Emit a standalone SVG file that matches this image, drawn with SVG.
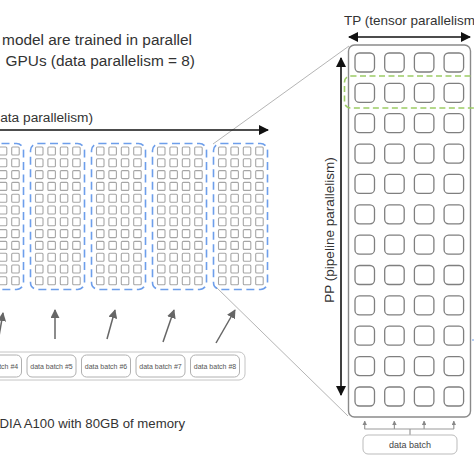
<svg xmlns="http://www.w3.org/2000/svg" xmlns:xlink="http://www.w3.org/1999/xlink" width="474" height="474" viewBox="0 0 474 474">
<style>
.t{font-family:"Liberation Sans",Arial,sans-serif;fill:#333}
.gpu{fill:none;stroke:#6d9eeb;stroke-width:1.6;stroke-dasharray:8 4.5}
.sq{fill:#fff;stroke:#a6a6a6;stroke-width:1.1}
.bsq{fill:#fff;stroke:#7f7f7f;stroke-width:1.3}
.db{fill:#fff;stroke:#b0b0b0;stroke-width:1}
.dbt{font-family:"Liberation Sans",Arial,sans-serif;font-size:7px;fill:#555;text-anchor:middle}
.blk{stroke:#111;stroke-width:1.6;fill:none}
.gr{stroke:#666;stroke-width:1.5;fill:none}
.thin{stroke:#b5b5b5;stroke-width:1;fill:none}
</style>
<defs>
<marker id="ahb" viewBox="0 0 10 10" refX="9" refY="5" markerWidth="10" markerHeight="10" markerUnits="userSpaceOnUse" orient="auto-start-reverse"><path d="M0,0 L10,5 L0,10 z" fill="#111"/></marker>
<marker id="ag" viewBox="0 0 10 10" refX="9" refY="5" markerWidth="9" markerHeight="9" markerUnits="userSpaceOnUse" orient="auto"><path d="M0,0 L10,5 L0,10 z" fill="#666"/></marker>
<marker id="as" viewBox="0 0 10 10" refX="9" refY="5" markerWidth="4.5" markerHeight="4.5" markerUnits="userSpaceOnUse" orient="auto"><path d="M0,0 L10,5 L0,10 z" fill="#888"/></marker>
<g id="srow">
<rect class="sq" x="0" y="0" width="7.5" height="8" rx="1"/>
<rect class="sq" x="12.4" y="0" width="7.5" height="8" rx="1"/>
<rect class="sq" x="24.8" y="0" width="7.5" height="8" rx="1"/>
<rect class="sq" x="37.2" y="0" width="7.5" height="8" rx="1"/>
</g>
<g id="scol">
<use xlink:href="#srow" y="0"/><use xlink:href="#srow" y="11.8"/><use xlink:href="#srow" y="23.6"/><use xlink:href="#srow" y="35.4"/>
<use xlink:href="#srow" y="47.2"/><use xlink:href="#srow" y="59"/><use xlink:href="#srow" y="70.8"/><use xlink:href="#srow" y="82.6"/>
<use xlink:href="#srow" y="94.4"/><use xlink:href="#srow" y="106.2"/><use xlink:href="#srow" y="118"/><use xlink:href="#srow" y="129.8"/>
</g>
<g id="brow">
<rect class="bsq" x="355" y="0" width="19.5" height="19" rx="4.5"/>
<rect class="bsq" x="384.7" y="0" width="19.5" height="19" rx="4.5"/>
<rect class="bsq" x="414.4" y="0" width="19.5" height="19" rx="4.5"/>
<rect class="bsq" x="444.1" y="0" width="19.5" height="19" rx="4.5"/>
</g>
</defs>
<rect width="474" height="474" fill="#fff"/>

<g id="titles">
<text class="t" x="192" y="45" font-size="15.4" text-anchor="end">model are trained in parallel</text>
<text class="t" x="195" y="66" font-size="15.4" text-anchor="end">GPUs (data parallelism = 8)</text>
<text class="t" x="93" y="122" font-size="13.7" text-anchor="end">ata parallelism)</text>
<text class="t" x="185" y="428" font-size="13.2" text-anchor="end">DIA A100 with 80GB of memory</text>
</g>

<g id="connectors">
<line class="thin" x1="213" y1="144" x2="349" y2="46"/>
<line class="thin" x1="216" y1="287" x2="348" y2="416"/>
<line class="blk" x1="-2" y1="130" x2="268" y2="130" marker-end="url(#ahb)"/>
<line class="gr" x1="-2" y1="342" x2="3" y2="313" marker-end="url(#ag)"/>
<line class="gr" x1="55" y1="339" x2="55" y2="310" marker-end="url(#ag)"/>
<line class="gr" x1="107" y1="339" x2="115" y2="310" marker-end="url(#ag)"/>
<line class="gr" x1="163" y1="342" x2="174" y2="310" marker-end="url(#ag)"/>
<line class="gr" x1="216" y1="343" x2="235" y2="310" marker-end="url(#ag)"/>
<line class="blk" x1="349" y1="37" x2="470" y2="37" marker-start="url(#ahb)" marker-end="url(#ahb)"/>
<line class="blk" x1="341" y1="58" x2="341" y2="395" marker-start="url(#ahb)" marker-end="url(#ahb)"/>
<line x1="364.5" y1="429" x2="454" y2="429" stroke="#999" stroke-width="1.2"/>
<line x1="410" y1="429" x2="410" y2="435" stroke="#999" stroke-width="1.2"/>
<line x1="364.7" y1="429" x2="364.7" y2="421" stroke="#999" stroke-width="1.2" marker-end="url(#as)"/>
<line x1="394.4" y1="429" x2="394.4" y2="421" stroke="#999" stroke-width="1.2" marker-end="url(#as)"/>
<line x1="424.1" y1="429" x2="424.1" y2="421" stroke="#999" stroke-width="1.2" marker-end="url(#as)"/>
<line x1="453.8" y1="429" x2="453.8" y2="421" stroke="#999" stroke-width="1.2" marker-end="url(#as)"/>
<line x1="472" y1="340" x2="474" y2="340" stroke="#6d9eeb" stroke-width="1.2"/>
</g>

<g id="gpu3"><use xlink:href="#scol" x="-25.5" y="147"/><rect class="gpu" x="-30.5" y="143.5" width="54" height="146" rx="7"/></g>
<g id="gpu4"><use xlink:href="#scol" x="35.5" y="147"/><rect class="gpu" x="30.5" y="143.5" width="54" height="146" rx="7"/></g>
<g id="gpu5"><use xlink:href="#scol" x="96.5" y="147"/><rect class="gpu" x="91.5" y="143.5" width="54" height="146" rx="7"/></g>
<g id="gpu6"><use xlink:href="#scol" x="157.5" y="147"/><rect class="gpu" x="152.5" y="143.5" width="54" height="146" rx="7"/></g>
<g id="gpu7"><use xlink:href="#scol" x="218.5" y="147"/><rect class="gpu" x="213.5" y="143.5" width="54" height="146" rx="7"/></g>

<g id="batches">
<rect x="-10" y="352" width="255" height="28" rx="6" fill="#fff" stroke="#c4c4c4" stroke-width="1"/>
<g id="b4"><rect class="db" x="-27.5" y="355" width="49" height="22" rx="5"/><text class="dbt" x="-3" y="368.5">data batch #4</text></g>
<g id="b5"><rect class="db" x="27" y="355" width="49" height="22" rx="5"/><text class="dbt" x="51.5" y="368.5">data batch #5</text></g>
<g id="b6"><rect class="db" x="81.5" y="355" width="49" height="22" rx="5"/><text class="dbt" x="106" y="368.5">data batch #6</text></g>
<g id="b7"><rect class="db" x="136" y="355" width="49" height="22" rx="5"/><text class="dbt" x="160.5" y="368.5">data batch #7</text></g>
<g id="b8"><rect class="db" x="190.5" y="355" width="49" height="22" rx="5"/><text class="dbt" x="215" y="368.5">data batch #8</text></g>
</g>

<g id="gpu-detail">
<text class="t" x="344" y="25" font-size="13.5">TP (tensor parallelism)</text>
<text class="t" font-size="13.5" text-anchor="middle" transform="translate(334,230) rotate(-90)">PP (pipeline parallelism)</text>
<rect x="348.5" y="45" width="122" height="372" rx="6" fill="#fff" stroke="#8a8a8a" stroke-width="1.4"/>
<use xlink:href="#brow" y="53"/><use xlink:href="#brow" y="83.4"/><use xlink:href="#brow" y="113.7"/><use xlink:href="#brow" y="144.1"/>
<use xlink:href="#brow" y="174.4"/><use xlink:href="#brow" y="204.8"/><use xlink:href="#brow" y="235.2"/><use xlink:href="#brow" y="265.5"/>
<use xlink:href="#brow" y="295.9"/><use xlink:href="#brow" y="326.2"/><use xlink:href="#brow" y="356.6"/><use xlink:href="#brow" y="387"/>
<rect x="344.5" y="76" width="140" height="32" rx="6" fill="none" stroke="#9ccc65" stroke-width="1.6" stroke-dasharray="6 3.5"/>
</g>

<g id="data-batch">
<rect x="363" y="435" width="94" height="19" rx="5" fill="#fff" stroke="#bbb" stroke-width="1"/>
<text x="410" y="447.5" font-family="'Liberation Sans',Arial,sans-serif" font-size="9" fill="#444" text-anchor="middle">data batch</text>
</g>
</svg>
